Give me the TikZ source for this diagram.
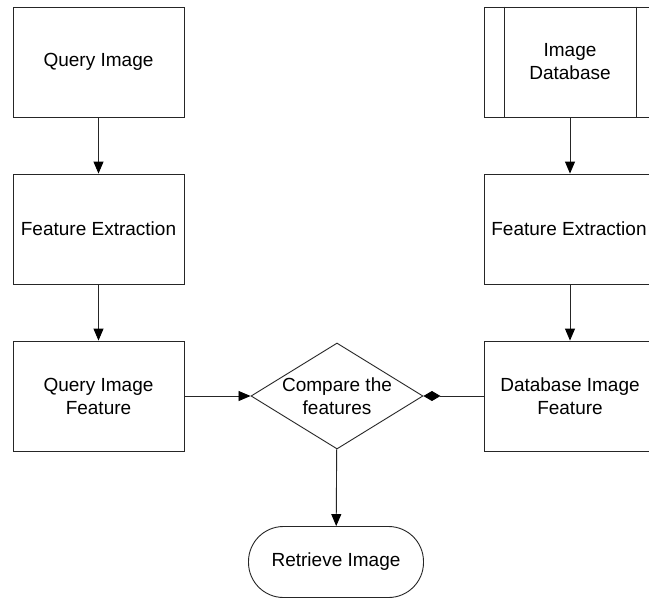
\documentclass[tikz,border=0pt]{standalone}
\usepackage{fontspec}
\setmainfont{Liberation Sans}
\usetikzlibrary{shapes.geometric,arrows.meta}
\begin{document}
\begin{tikzpicture}[x=1pt,y=-1pt,
  font=\fontsize{19}{23}\selectfont,
  line/.style={draw=black!85, line width=0.9pt},
  box/.style={line, rectangle, minimum width=171pt, minimum height=110pt, inner sep=0pt, align=center},
  conn/.style={line, -{Triangle[length=12pt,width=10pt,fill=black,color=black]}},
  dconn/.style={line, -{Diamond[length=17pt,width=10pt,fill=black,color=black]}}
]
\clip (0,0) rectangle (649,600);
\fill[white] (0,0) rectangle (649,600);
% left column
\node[box] (qi)  at (98.5,62)  {Query Image};
\node[box] (fe1) at (98.5,229) {Feature Extraction};
\node[box] (qf)  at (98.5,396) {Query Image\\Feature};
% right column
\node[box] (db)  at (570,62)   {Image\\Database};
\draw[line] ([xshift=20pt]db.north west) -- ([xshift=20pt]db.south west);
\draw[line] ([xshift=-20pt]db.north east) -- ([xshift=-20pt]db.south east);
\node[box] (fe2) at (570,229)  {\hspace*{-2pt}Feature Extraction};
\node[box] (dbf) at (570,396)  {Database Image\\Feature};
% decision
\node[line, diamond, minimum width=172pt, minimum height=106pt, inner sep=0pt] (cmp) at (337,396) {};
\node[align=center, inner sep=0pt] (cmpt) at (cmp.center) {Compare the\\features};
% terminal
\node[line, rectangle, rounded corners=35pt, minimum width=175pt, minimum height=71pt] (ret) at (336,562) {Retrieve Image};
% connectors
\draw[conn] (qi) -- (fe1);
\draw[conn] (fe1) -- (qf);
\draw[conn] (db) -- (fe2);
\draw[conn] (fe2) -- (dbf);
\draw[conn] (qf) -- (cmp);
\draw[dconn] (dbf) -- (cmp);
\draw[conn] (cmp) -- (ret);
\end{tikzpicture}
\end{document}
